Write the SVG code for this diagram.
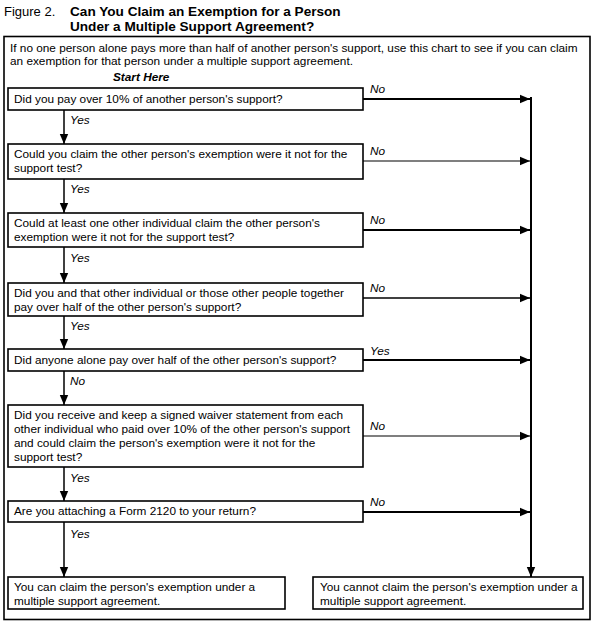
<svg xmlns="http://www.w3.org/2000/svg" width="595" height="624" viewBox="0 0 595 624">
<defs>
<marker id="ah" markerUnits="userSpaceOnUse" markerWidth="10" markerHeight="10" viewBox="0 0 10 10" refX="10" refY="5" orient="auto">
<path d="M0,0.8 L10,5 L0,9.2 Z" fill="#000"/>
</marker>
</defs>
<style>
.t{font-family:"Liberation Sans",Arial,sans-serif;font-size:11.8px;fill:#000}
.lb{font-family:"Liberation Sans",Arial,sans-serif;font-size:11.8px;font-style:italic;fill:#000}
.box{fill:#fff;stroke:#000;stroke-width:1.6}
.c{fill:none;stroke:#000;stroke-width:1.5}
.cth{fill:none;stroke:#000;stroke-width:2}
.cti{fill:none;stroke:#000;stroke-width:1.1}
.ttl{font-family:"Liberation Sans",Arial,sans-serif;font-size:13.6px;font-weight:bold}
</style>
<rect width="595" height="624" fill="#fff"/>
<g id="title">
<text x="4" y="16" style="font-family:'Liberation Sans',Arial,sans-serif;font-size:13px">Figure 2.</text>
<text class="ttl" x="70" y="16">Can You Claim an Exemption for a Person</text>
<text class="ttl" x="70" y="31">Under a Multiple Support Agreement?</text>
</g>
<rect id="frame" x="4" y="36.5" width="586" height="583" fill="none" stroke="#000" stroke-width="1.6"/>
<g id="intro">
<text class="t" x="10" y="52">If no one person alone pays more than half of another person's support, use this chart to see if you can claim</text>
<text class="t" x="10" y="65">an exemption for that person under a multiple support agreement.</text>
<text x="113" y="81" style="font-family:'Liberation Sans',Arial,sans-serif;font-size:11.8px;font-weight:bold;font-style:italic">Start Here</text>
</g>
<g id="connectors">
<path class="c" d="M64,110 V144" marker-end="url(#ah)"/>
<path class="c" d="M64,179 V213" marker-end="url(#ah)"/>
<path class="c" d="M64,247 V283" marker-end="url(#ah)"/>
<path class="c" d="M64,316 V349" marker-end="url(#ah)"/>
<path class="c" d="M64,371 V405" marker-end="url(#ah)"/>
<path class="c" d="M64,467 V501" marker-end="url(#ah)"/>
<path class="c" d="M64,522 V577" marker-end="url(#ah)"/>
<path class="cth" d="M363,99 H530" marker-end="url(#ah)"/>
<path class="cti" d="M363,161 H530" marker-end="url(#ah)"/>
<path class="cth" d="M363,230 H530" marker-end="url(#ah)"/>
<path class="c" d="M363,298 H530" marker-end="url(#ah)"/>
<path class="cth" d="M363,360 H530" marker-end="url(#ah)"/>
<path class="cti" d="M363,436 H530" marker-end="url(#ah)"/>
<path class="cth" d="M363,512 H530" marker-end="url(#ah)"/>
<path class="cth" d="M531,97 V577" marker-end="url(#ah)"/>
<text class="lb" x="70" y="124">Yes</text>
<text class="lb" x="70" y="193">Yes</text>
<text class="lb" x="70" y="262">Yes</text>
<text class="lb" x="70" y="330">Yes</text>
<text class="lb" x="70" y="385">No</text>
<text class="lb" x="70" y="482">Yes</text>
<text class="lb" x="70" y="538">Yes</text>
<text class="lb" x="370" y="93">No</text>
<text class="lb" x="370" y="155">No</text>
<text class="lb" x="370" y="224">No</text>
<text class="lb" x="370" y="292">No</text>
<text class="lb" x="370" y="355">Yes</text>
<text class="lb" x="370" y="430">No</text>
<text class="lb" x="370" y="506">No</text>
</g>
<g id="q1">
<rect class="box" x="8" y="88" width="355" height="22"/>
<text class="t" x="14" y="103">Did you pay over 10% of another person's support?</text>
</g>
<g id="q2">
<rect class="box" x="8" y="144" width="355" height="35"/>
<text class="t" x="14" y="158">Could you claim the other person's exemption were it not for the</text>
<text class="t" x="14" y="172">support test?</text>
</g>
<g id="q3">
<rect class="box" x="8" y="213" width="355" height="34"/>
<text class="t" x="14" y="227">Could at least one other individual claim the other person's</text>
<text class="t" x="14" y="241">exemption were it not for the support test?</text>
</g>
<g id="q4">
<rect class="box" x="8" y="283" width="355" height="33"/>
<text class="t" x="14" y="297">Did you and that other individual or those other people together</text>
<text class="t" x="14" y="311">pay over half of the other person's support?</text>
</g>
<g id="q5">
<rect class="box" x="8" y="349" width="355" height="22"/>
<text class="t" x="14" y="364">Did anyone alone pay over half of the other person's support?</text>
</g>
<g id="q6">
<rect class="box" x="8" y="405" width="355" height="62"/>
<text class="t" x="14" y="419">Did you receive and keep a signed waiver statement from each</text>
<text class="t" x="14" y="433">other individual who paid over 10% of the other person's support</text>
<text class="t" x="14" y="447">and could claim the person's exemption were it not for the</text>
<text class="t" x="14" y="461">support test?</text>
</g>
<g id="q7">
<rect class="box" x="8" y="501" width="355" height="21"/>
<text class="t" x="14" y="515">Are you attaching a Form 2120 to your return?</text>
</g>
<g id="yes-result">
<rect class="box" x="8" y="577" width="277" height="32"/>
<text class="t" x="14" y="591">You can claim the person's exemption under a</text>
<text class="t" x="14" y="605">multiple support agreement.</text>
</g>
<g id="no-result">
<rect class="box" x="313" y="577" width="270" height="32"/>
<text class="t" x="320" y="591">You cannot claim the person's exemption under a</text>
<text class="t" x="320" y="605">multiple support agreement.</text>
</g>
</svg>
